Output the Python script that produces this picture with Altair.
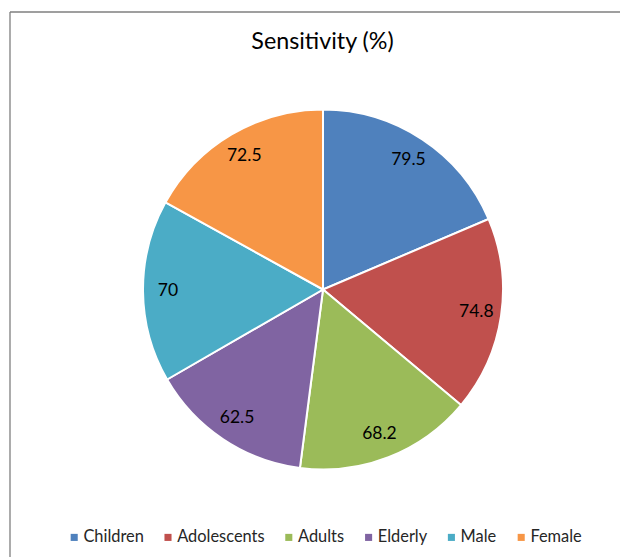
import altair as alt
import pandas as pd

categories = ["Children", "Adolescents", "Adults", "Elderly", "Male", "Female"]
values = [79.5, 74.8, 68.2, 62.5, 70, 72.5]
labels = ["79.5", "74.8", "68.2", "62.5", "70", "72.5"]
colors = ["#4F81BD", "#C0504D", "#9BBB59", "#8064A2", "#4BACC6", "#F79646"]
title_text = "Sensitivity (%)"

df = pd.DataFrame({
    "group": categories,
    "value": values,
    "label": labels,
    "order": list(range(len(categories))),
})

FONT = "Lato"
CX, CY = 323, 289.5

base = alt.Chart(df).encode(
    theta=alt.Theta("value:Q", stack=True),
    order=alt.Order("order:Q"),
)

pie = base.mark_arc(stroke="white", strokeWidth=2).encode(
    x=alt.value(CX),
    y=alt.value(CY),
    radius=alt.value(180),
    color=alt.Color(
        "group:N",
        scale=alt.Scale(domain=categories, range=colors),
        sort=categories,
        legend=alt.Legend(
            title=None,
            orient="none",
            legendX=66,
            legendY=529,
            direction="horizontal",
            columns=6,
            symbolType="square",
            symbolSize=50,
            symbolStrokeWidth=0,
            labelFont=FONT,
            labelFontSize=16.4,
            labelColor="#262626",
            labelOffset=1,
            columnPadding=15.8,
        ),
    ),
)

text = base.mark_text(font=FONT, fontSize=17.5, color="#000000", baseline="middle", align="center").encode(
    x=alt.value(CX),
    y=alt.value(CY),
    radius=alt.value(155),
    text="label:N",
)

title_df = pd.DataFrame({"t": [title_text]})
title = alt.Chart(title_df).mark_text(font=FONT, fontSize=23.3, color="#000000", baseline="alphabetic", align="center").encode(
    x=alt.value(322.5), y=alt.value(48.5), text="t:N"
)

frame_df = pd.DataFrame({"k": [0]})
top_rule = alt.Chart(frame_df).mark_rule(color="#7f7f7f", strokeWidth=1.3).encode(
    x=alt.value(10), x2=alt.value(620), y=alt.value(12)
)
left_rule = alt.Chart(frame_df).mark_rule(color="#7f7f7f", strokeWidth=1.3).encode(
    x=alt.value(10), y=alt.value(12), y2=alt.value(557)
)

chart = alt.layer(pie, text, title, top_rule, left_rule).properties(
    width=620, height=557,
    padding=0,
    autosize=alt.AutoSizeParams(type="none"),
    background="white",
).configure_view(stroke=None)

chart.save("out.html", embed_options={"renderer": "svg", "actions": False})
